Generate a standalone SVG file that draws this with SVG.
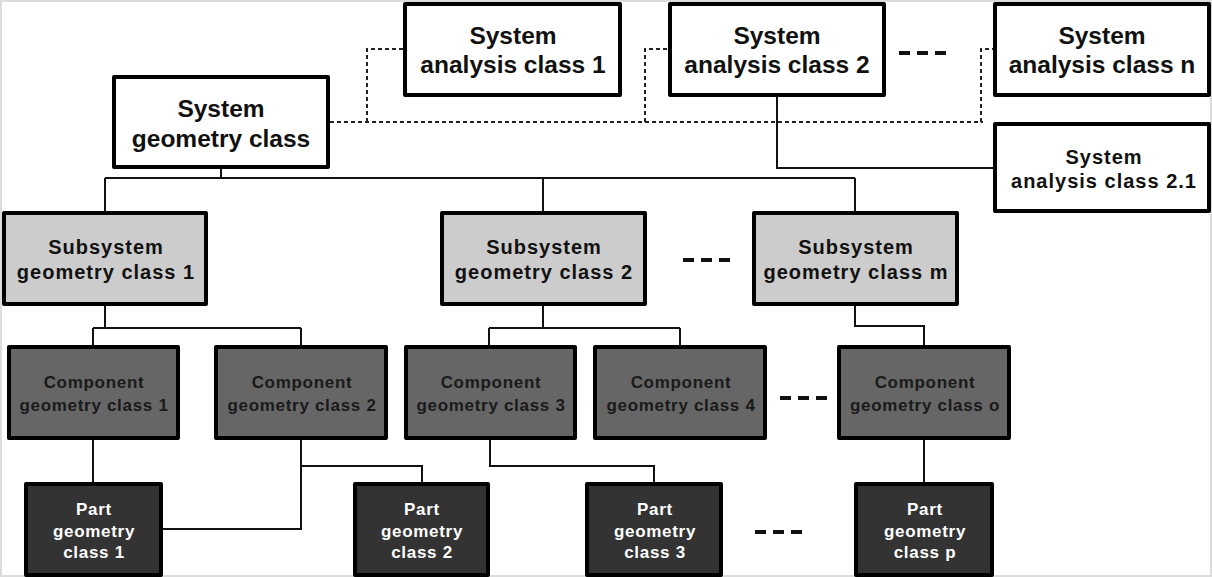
<svg xmlns="http://www.w3.org/2000/svg" width="1212" height="577" viewBox="0 0 1212 577">
<style>
.box{stroke:#000;stroke-width:4;stroke-linejoin:round}
.w{fill:#fff}.l{fill:#cccccc}.m{fill:#666666}.d{fill:#333333}
text{font-family:"Liberation Sans",Arial,sans-serif;font-weight:bold;text-anchor:middle}
.t1{font-size:24.5px;fill:#111}
.t2{font-size:20px;fill:#111;letter-spacing:1px}
.t3{font-size:17px;fill:#1a1a1a;letter-spacing:0.7px}
.t4{font-size:17px;fill:#fff;letter-spacing:0.7px}
.c{fill:none;stroke:#111;stroke-width:2}
.dot{fill:none;stroke:#222;stroke-width:2;stroke-dasharray:4 3}
.ell{fill:none;stroke:#111;stroke-width:4;stroke-dasharray:11 7}
</style>
<rect x="0" y="0" width="1212" height="577" fill="#fff"/>
<rect x="1" y="1" width="1210" height="575" fill="none" stroke="#dcdcdc" stroke-width="2"/>
<g id="connectors">
<path class="dot" d="M330 122H983M367 122V49H405M645 122V49H670M981 122V49H995"/>
<path class="c" d="M777 97V168H995"/>
<path class="c" d="M221 169V178M105 178H855M105 178V213M543 178V213M855 178V213"/>
<path class="c" d="M105 306V328M93 328H301M93 328V347M301 328V347"/>
<path class="c" d="M543 306V328M489 328H680M489 328V347M680 328V347"/>
<path class="c" d="M855 306V326H924V347"/>
<path class="c" d="M93 440V484"/>
<path class="c" d="M301 440V529H161M301 466H422V484"/>
<path class="c" d="M490 440V466H654V484"/>
<path class="c" d="M924 440V484"/>
</g>
<g id="ellipses">
<path class="ell" d="M899 53H947"/>
<path class="ell" d="M683 260H731"/>
<path class="ell" d="M780 398H828"/>
<path class="ell" d="M755 532H803"/>
</g>
<g id="system-geometry"><rect class="box w" x="114" y="77" width="214" height="90"/><text class="t1" x="221" y="117">System</text><text class="t1" x="221" y="147">geometry class</text></g>
<g id="analysis-1"><rect class="box w" x="405" y="4" width="215" height="91"/><text class="t1" x="513" y="44">System</text><text class="t1" x="513" y="73">analysis class 1</text></g>
<g id="analysis-2"><rect class="box w" x="670" y="4" width="214" height="91"/><text class="t1" x="777" y="44">System</text><text class="t1" x="777" y="73">analysis class 2</text></g>
<g id="analysis-n"><rect class="box w" x="995" y="4" width="214" height="91"/><text class="t1" x="1102" y="44">System</text><text class="t1" x="1102" y="73">analysis class n</text></g>
<g id="analysis-2-1"><rect class="box w" x="995" y="124" width="214" height="87"/><text class="t2" x="1104" y="164">System</text><text class="t2" x="1104" y="188">analysis class 2.1</text></g>
<g id="subsystem-1"><rect class="box l" x="4" y="213" width="202" height="91"/><text class="t2" x="106" y="254">Subsystem</text><text class="t2" x="106" y="279">geometry class 1</text></g>
<g id="subsystem-2"><rect class="box l" x="442" y="213" width="203" height="91"/><text class="t2" x="544" y="254">Subsystem</text><text class="t2" x="544" y="279">geometry class 2</text></g>
<g id="subsystem-m"><rect class="box l" x="754" y="213" width="203" height="91"/><text class="t2" x="856" y="254">Subsystem</text><text class="t2" x="856" y="279">geometry class m</text></g>
<g id="component-1"><rect class="box m" x="9" y="347" width="169" height="91"/><text class="t3" x="94" y="388">Component</text><text class="t3" x="94" y="411">geometry class 1</text></g>
<g id="component-2"><rect class="box m" x="216" y="347" width="170" height="91"/><text class="t3" x="302" y="388">Component</text><text class="t3" x="302" y="411">geometry class 2</text></g>
<g id="component-3"><rect class="box m" x="406" y="347" width="169" height="91"/><text class="t3" x="491" y="388">Component</text><text class="t3" x="491" y="411">geometry class 3</text></g>
<g id="component-4"><rect class="box m" x="595" y="347" width="170" height="91"/><text class="t3" x="681" y="388">Component</text><text class="t3" x="681" y="411">geometry class 4</text></g>
<g id="component-o"><rect class="box m" x="839" y="347" width="170" height="91"/><text class="t3" x="925" y="388">Component</text><text class="t3" x="925" y="411">geometry class o</text></g>
<g id="part-1"><rect class="box d" x="26" y="484" width="135" height="91"/><text class="t4" x="94" y="515">Part</text><text class="t4" x="94" y="537">geometry</text><text class="t4" x="94" y="558">class 1</text></g>
<g id="part-2"><rect class="box d" x="355" y="484" width="133" height="91"/><text class="t4" x="422" y="515">Part</text><text class="t4" x="422" y="537">geometry</text><text class="t4" x="422" y="558">class 2</text></g>
<g id="part-3"><rect class="box d" x="587" y="484" width="134" height="91"/><text class="t4" x="655" y="515">Part</text><text class="t4" x="655" y="537">geometry</text><text class="t4" x="655" y="558">class 3</text></g>
<g id="part-p"><rect class="box d" x="856" y="484" width="136" height="91"/><text class="t4" x="925" y="515">Part</text><text class="t4" x="925" y="537">geometry</text><text class="t4" x="925" y="558">class p</text></g>
</svg>
